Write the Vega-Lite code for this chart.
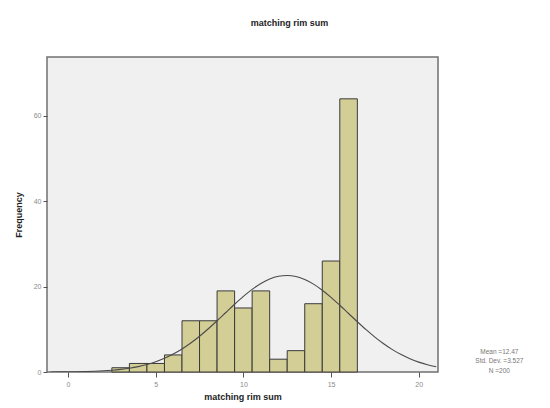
{
  "$schema": "https://vega.github.io/schema/vega-lite/v6.json",
  "width": 391,
  "height": 315,
  "autosize": {"type": "none"},
  "padding": {"left": 47, "top": 57, "right": 112, "bottom": 36},
  "background": "white",
  "title": {"text": "matching rim sum", "font": "Liberation Sans", "fontSize": 9, "fontWeight": "bold", "color": "#222222", "anchor": "middle", "dx": 47, "offset": 29},
  "config": {
    "view": {"fill": "#f0f0f0", "stroke": "#707070", "strokeWidth": 1.5},
    "axis": {"domain": false, "grid": false, "labelFont": "Liberation Sans", "titleFont": "Liberation Sans", "labelFontSize": 7, "labelColor": "#8a8a8a", "tickColor": "#555555", "titleFontSize": 9, "titleFontWeight": "bold", "titleColor": "#222222"}
  },
  "datasets": {
    "bins": [
      {"bin_start": 2.5, "bin_end": 3.5, "count": 1},
      {"bin_start": 3.5, "bin_end": 4.5, "count": 2},
      {"bin_start": 4.5, "bin_end": 5.5, "count": 2},
      {"bin_start": 5.5, "bin_end": 6.5, "count": 4},
      {"bin_start": 6.5, "bin_end": 7.5, "count": 12},
      {"bin_start": 7.5, "bin_end": 8.5, "count": 12},
      {"bin_start": 8.5, "bin_end": 9.5, "count": 19},
      {"bin_start": 9.5, "bin_end": 10.5, "count": 15},
      {"bin_start": 10.5, "bin_end": 11.5, "count": 19},
      {"bin_start": 11.5, "bin_end": 12.5, "count": 3},
      {"bin_start": 12.5, "bin_end": 13.5, "count": 5},
      {"bin_start": 13.5, "bin_end": 14.5, "count": 16},
      {"bin_start": 14.5, "bin_end": 15.5, "count": 26},
      {"bin_start": 15.5, "bin_end": 16.5, "count": 64}
    ],
    "curve": [
      {"x": -1, "y": 0.015}, {"x": -0.5, "y": 0.026}, {"x": 0, "y": 0.044}, {"x": 0.5, "y": 0.071},
      {"x": 1, "y": 0.114}, {"x": 1.5, "y": 0.179}, {"x": 2, "y": 0.276}, {"x": 2.5, "y": 0.416},
      {"x": 3, "y": 0.615}, {"x": 3.5, "y": 0.891}, {"x": 4, "y": 1.265}, {"x": 4.5, "y": 1.76},
      {"x": 5, "y": 2.4}, {"x": 5.5, "y": 3.21}, {"x": 6, "y": 4.205}, {"x": 6.5, "y": 5.399},
      {"x": 7, "y": 6.795}, {"x": 7.5, "y": 8.382}, {"x": 8, "y": 10.132}, {"x": 8.5, "y": 12.005},
      {"x": 9, "y": 13.942}, {"x": 9.5, "y": 15.868}, {"x": 10, "y": 17.701}, {"x": 10.5, "y": 19.353},
      {"x": 11, "y": 20.738}, {"x": 11.5, "y": 21.781}, {"x": 12, "y": 22.42}, {"x": 12.5, "y": 22.619},
      {"x": 13, "y": 22.366}, {"x": 13.5, "y": 21.676}, {"x": 14, "y": 20.589}, {"x": 14.5, "y": 19.167},
      {"x": 15, "y": 17.489}, {"x": 15.5, "y": 15.64}, {"x": 16, "y": 13.707}, {"x": 16.5, "y": 11.776},
      {"x": 17, "y": 9.915}, {"x": 17.5, "y": 8.181}, {"x": 18, "y": 6.617}, {"x": 18.5, "y": 5.245},
      {"x": 19, "y": 4.075}, {"x": 19.5, "y": 3.103}, {"x": 20, "y": 2.316}, {"x": 20.5, "y": 1.694},
      {"x": 21, "y": 1.214}
    ],
    "stats": [
      {"label": "Mean =12.47\nStd. Dev. =3.527\nN =200"}
    ]
  },
  "layer": [
    {
      "data": {"name": "bins"},
      "mark": {"type": "rect", "fill": "#d3ce96", "stroke": "#3a3a3a", "strokeWidth": 1},
      "encoding": {
        "x": {"field": "bin_start", "type": "quantitative", "scale": {"domain": [-1.2, 21.1], "nice": false, "zero": false},
              "axis": {"values": [0, 5, 10, 15, 20], "tickSize": 5, "labelPadding": 3, "title": "matching rim sum", "titlePadding": 5}},
        "x2": {"field": "bin_end"},
        "y": {"field": "count", "type": "quantitative", "scale": {"domain": [0, 73.8], "nice": false},
              "axis": {"values": [0, 20, 40, 60], "tickSize": 4, "labelPadding": 2, "title": "Frequency", "titlePadding": 10}},
        "y2": {"datum": 0}
      }
    },
    {
      "data": {"name": "curve"},
      "mark": {"type": "line", "color": "#4a4a4a", "strokeWidth": 1.1, "interpolate": "monotone", "clip": true},
      "encoding": {
        "x": {"field": "x", "type": "quantitative"},
        "y": {"field": "y", "type": "quantitative"}
      }
    },
    {
      "data": {"name": "stats"},
      "mark": {"type": "text", "font": "Liberation Sans", "fontSize": 6.5, "color": "#777777", "lineBreak": "\n", "lineHeight": 9.5, "align": "center", "baseline": "middle"},
      "encoding": {
        "x": {"datum": 24.6, "type": "quantitative"},
        "y": {"datum": 4.7, "type": "quantitative"},
        "text": {"field": "label"}
      }
    }
  ]
}
